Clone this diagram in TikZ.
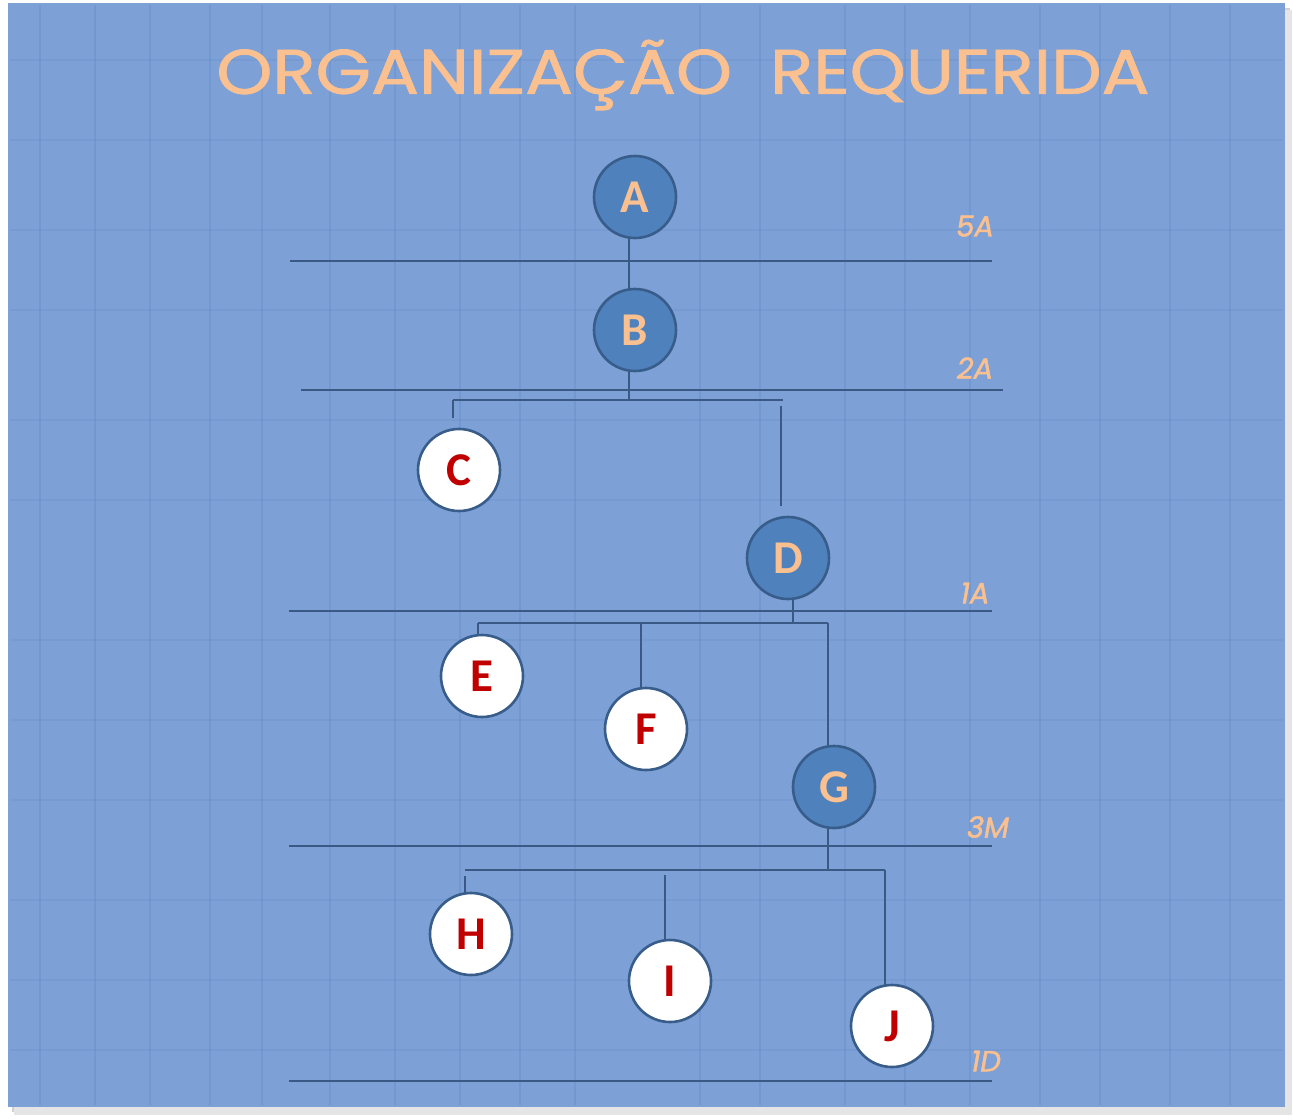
\documentclass[tikz,border=0pt]{standalone}
\usepackage{fontspec}
\setmainfont{Carlito}
\newfontfamily\titlefont[FakeBold=1.2]{Poppins}
\newfontfamily\labelfont[FakeBold=1.5]{Poppins}
\usetikzlibrary{shadows}
\definecolor{bgblue}{HTML}{7DA0D6}
\definecolor{nodeblue}{HTML}{4F81BD}
\definecolor{edge}{HTML}{385D8A}
\definecolor{peach}{HTML}{FAC090}
\definecolor{letterred}{HTML}{C00000}
\definecolor{linecol}{HTML}{3A5A85}
\tikzset{
  x=1pt, y=-1pt,
  person/.style={circle, minimum size=82pt, inner sep=0pt, line width=2.6pt, draw=edge, font=\bfseries\fontsize{47}{47}\selectfont},
  bluenode/.style={person, fill=nodeblue, text=peach},
  whitenode/.style={person, fill=white, text=letterred},
  level/.style={draw=linecol, line width=2pt},
  conn/.style={draw=linecol, line width=1.8pt},
  levellabel/.style={text=peach, font=\labelfont\itshape\fontsize{29}{29}\selectfont, inner sep=0pt}
}
\begin{document}
\begin{tikzpicture}
\useasboundingbox (0,0) rectangle (1293,1119);
\fill[white] (0,0) rectangle (1293,1119);
% shadow
\fill[black!18] (12,8) rectangle (1290,1112);
\fill[black!10] (14,10) rectangle (1292,1115);
\fill[bgblue] (8,3) rectangle (1285,1107);
% faint texture
\foreach \xx in {40,95,150,210,262,330,395,460,520,575,700,760,845,905,970,1040,1100,1170,1230}{
  \draw[nodeblue!70!bgblue, opacity=0.35, line width=1.2pt] (\xx,5) -- (\xx,1105);
}
\foreach \yy in {60,140,230,310,420,500,640,720,800,900,980,1050}{
  \draw[nodeblue!60!bgblue, opacity=0.25, line width=1.5pt] (10,\yy) -- (1283,\yy);
}
% title
\node[text=peach, inner sep=0pt] (title) at (683,75) {\scalebox{1.13}[1]{\titlefont\fontsize{63}{63}\selectfont ORGANIZAÇÃO\ \ REQUERIDA}};
% level lines
\coordinate (l5a) at (290,261); \coordinate (r5a) at (992,261);
\coordinate (l2a) at (301,390); \coordinate (r2a) at (1003,390);
\coordinate (l1a) at (289,611); \coordinate (r1a) at (992,611);
\coordinate (l3m) at (289,846); \coordinate (r3m) at (992,846);
\coordinate (l1d) at (289,1081); \coordinate (r1d) at (992,1081);
\draw[level] (l5a) -- (r5a);
\draw[level] (l2a) -- (r2a);
\draw[level] (l1a) -- (r1a);
\draw[level] (l3m) -- (r3m);
\draw[level] (l1d) -- (r1d);
\node[levellabel] (t5a) at (975,226) {5A};
\node[levellabel] (t2a) at (975,368) {2A};
\node[levellabel] (t1a) at (975,593) {1A};
\node[levellabel] (t3m) at (988,827) {3M};
\node[levellabel] (t1d) at (986,1061) {1D};
% connectors (under nodes)
\coordinate (bA) at (629,238); \coordinate (tB) at (629,290);
\coordinate (bB) at (629,372); \coordinate (jB) at (629,400);
\coordinate (hBl) at (453,400); \coordinate (hBr) at (783,400);
\coordinate (tC) at (453,418);
\coordinate (tDs) at (781,406); \coordinate (tD) at (781,506);
\coordinate (bD) at (793,600); \coordinate (jD) at (793,623);
\coordinate (hDl) at (478,623); \coordinate (hDr) at (828,623);
\coordinate (tE) at (478,636);
\coordinate (hF) at (641,623); \coordinate (tF) at (641,690);
\coordinate (tG) at (828,750);
\coordinate (bG) at (828,826); \coordinate (jG) at (828,870);
\coordinate (hGl) at (465,870); \coordinate (hGr) at (885,870);
\coordinate (tHs) at (465,876); \coordinate (tH) at (465,895);
\coordinate (tIs) at (665,875); \coordinate (tI) at (665,942);
\coordinate (tJ) at (885,988);
\draw[conn] (bA) -- (tB);
\draw[conn] (bB) -- (jB);
\draw[conn] (hBl) -- (hBr);
\draw[conn] (hBl) -- (tC);
\draw[conn] (tDs) -- (tD);
\draw[conn] (bD) -- (jD);
\draw[conn] (hDl) -- (hDr);
\draw[conn] (hDl) -- (tE);
\draw[conn] (hF) -- (tF);
\draw[conn] (hDr) -- (tG);
\draw[conn] (bG) -- (jG);
\draw[conn] (hGl) -- (hGr);
\draw[conn] (tHs) -- (tH);
\draw[conn] (tIs) -- (tI);
\draw[conn] (hGr) -- (tJ);
% nodes
\node[bluenode] (A) at (635,197) {A};
\node[bluenode] (B) at (635,330) {B};
\node[whitenode] (C) at (459,470) {C};
\node[bluenode] (D) at (788,558) {D};
\node[whitenode] (E) at (482,676) {E};
\node[whitenode] (F) at (646,729) {F};
\node[bluenode] (G) at (834,787) {G};
\node[whitenode] (H) at (471,934) {H};
\node[whitenode] (I) at (670,981) {I};
\node[whitenode] (J) at (892,1026) {J};
\end{tikzpicture}
\end{document}
